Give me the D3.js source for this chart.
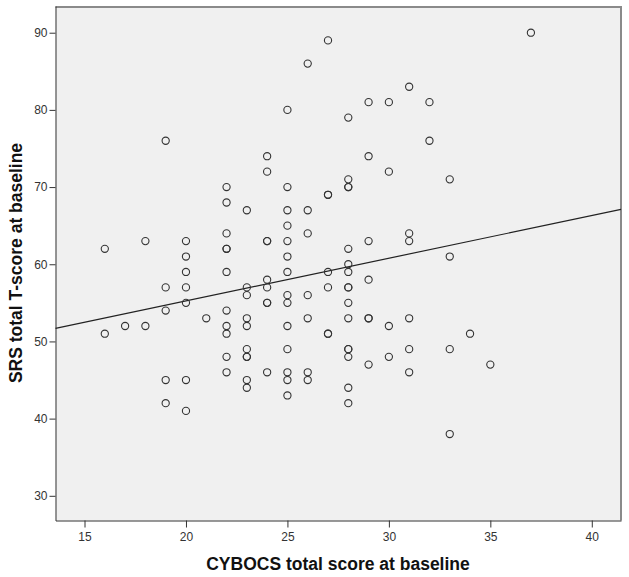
<!DOCTYPE html>
<html>
<head>
<meta charset="utf-8">
<script src="https://cdn.jsdelivr.net/npm/d3@7"></script>
<style>
  body { margin: 0; background: #fff; }
  svg { display: block; font-family: Arial, "Liberation Sans", sans-serif; }
</style>
</head>
<body>
<script>
// CYBOCS score (x) per column, with the SRS T-scores found at that score
var cyScores = [16, 17, 18, 19, 20, 21, 22, 23, 24, 25, 26, 27, 28, 29, 30, 31, 32, 33, 34, 35, 37];
var srsScores = [
  [62, 51],
  [52],
  [63, 52],
  [76, 57, 54, 45, 42],
  [63, 61, 59, 57, 55, 45, 41],
  [53],
  [70, 68, 64, 62, 62, 59, 54, 52, 51, 48, 46],
  [67, 57, 56, 53, 52, 49, 48, 48, 45, 44],
  [74, 72, 63, 63, 58, 57, 55, 55, 46],
  [80, 70, 67, 65, 63, 61, 59, 56, 55, 52, 49, 46, 45, 43],
  [86, 67, 64, 56, 53, 46, 45],
  [89, 69, 69, 59, 57, 51, 51],
  [79, 71, 70, 70, 62, 60, 59, 57, 57, 55, 53, 49, 49, 48, 44, 42],
  [81, 74, 63, 58, 53, 53, 47],
  [81, 72, 52, 48],
  [83, 64, 63, 53, 49, 46],
  [81, 76],
  [71, 61, 49, 38],
  [51],
  [47],
  [90]
];
var xTicks = [15, 20, 25, 30, 35, 40];
var yTicks = [30, 40, 50, 60, 70, 80, 90];
// fit line: y = a + b*x
var fitIntercept = 44.19;
var fitSlope = 0.553;

var xTitle = 'CYBOCS total score at baseline';
var yTitle = 'SRS total T-score at baseline';

var points = [];
cyScores.forEach(function(x, i) {
  srsScores[i].forEach(function(y) {
    points.push({ x: x, y: y });
  });
});

var w = 629;
var h = 577;
var plotL = 55.5, plotR = 621, plotT = 6, plotB = 520.5;

var svg = d3.select('body')
  .append('svg')
  .attr('width', w)
  .attr('height', h);

/* ===== scales ===== */

var xScale = d3.scaleLinear()
  .domain([13.57, 41.44])
  .range([plotL, plotR]);

var yScale = d3.scaleLinear()
  .domain([26.8, 93.46])
  .range([plotB, plotT]);

/* ===== plot area ===== */

svg.append('rect')
  .attr('x', plotL)
  .attr('y', plotT)
  .attr('width', plotR - plotL)
  .attr('height', plotB - plotT)
  .attr('fill', '#f0f0f0');

// top and right edges are a lighter grey
svg.append('path')
  .attr('d', 'M' + plotL + ',' + (plotT + 1) + 'H' + plotR + 'V' + plotB)
  .attr('fill', 'none')
  .attr('stroke', '#8a8a8a')
  .attr('stroke-width', 2);

/* ===== axes ===== */

var xAxis = d3.axisBottom(xScale)
  .tickValues(xTicks)
  .tickSize(7)
  .tickPadding(5)
  .tickSizeOuter(0);

var yAxis = d3.axisLeft(yScale)
  .tickValues(yTicks)
  .tickSize(6)
  .tickPadding(2)
  .tickSizeOuter(0);

var gx = svg.append('g')
  .attr('transform', 'translate(0,' + plotB + ')')
  .call(xAxis);

var gy = svg.append('g')
  .attr('transform', 'translate(' + plotL + ',0)')
  .call(yAxis);

[gx, gy].forEach(function(g) {
  g.select('.domain').attr('stroke', '#333');
  g.selectAll('.tick line').attr('stroke', '#333');
  g.selectAll('.tick text')
    .attr('fill', '#333')
    .style('font-size', '12px');
});

/* ===== fit line ===== */

var xd = xScale.domain();
svg.append('line')
  .attr('x1', xScale(xd[0]))
  .attr('y1', yScale(fitIntercept + fitSlope * xd[0]))
  .attr('x2', xScale(xd[1]))
  .attr('y2', yScale(fitIntercept + fitSlope * xd[1]))
  .attr('stroke', '#222')
  .attr('stroke-width', 1.2);

/* ===== dots ===== */

svg.selectAll('circle.dot')
  .data(points)
  .enter()
  .append('circle')
  .attr('class', 'dot')
  .attr('cx', function(d) { return xScale(d.x); })
  .attr('cy', function(d) { return yScale(d.y); })
  .attr('r', 3.6)
  .attr('fill', 'none')
  .attr('stroke', '#333')
  .attr('stroke-width', 1.1);

/* ===== titles ===== */

svg.append('text')
  .attr('x', 338)
  .attr('y', 570)
  .attr('text-anchor', 'middle')
  .attr('font-weight', 'bold')
  .attr('font-size', '17.5px')
  .attr('fill', '#111')
  .text(xTitle);

svg.append('text')
  .attr('transform', 'translate(22,263) rotate(-90)')
  .attr('text-anchor', 'middle')
  .attr('font-weight', 'bold')
  .attr('font-size', '17.5px')
  .attr('fill', '#111')
  .text(yTitle);
</script>
</body>
</html>
